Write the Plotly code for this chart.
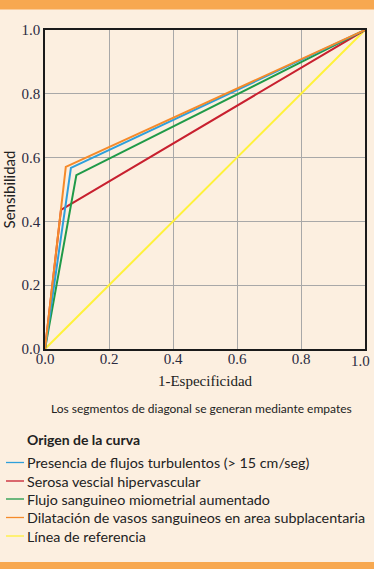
import plotly.graph_objects as go

# ---- data ----
series_names = [
    "Presencia de flujos turbulentos (> 15 cm/seg)",
    "Serosa vescial hipervascular",
    "Flujo sanguineo miometrial aumentado",
    "Dilatación de vasos sanguineos en area subplacentaria",
    "Línea de referencia",
]
x_turbulentos = [0.0, 0.081, 1.0]
y_turbulentos = [0.0, 0.568, 1.0]
x_serosa = [0.0, 0.05, 1.0]
y_serosa = [0.0, 0.436, 1.0]
x_miometrial = [0.0, 0.098, 1.0]
y_miometrial = [0.0, 0.545, 1.0]
x_dilatacion = [0.0, 0.065, 1.0]
y_dilatacion = [0.0, 0.571, 1.0]
x_referencia = [0.0, 1.0]
y_referencia = [0.0, 1.0]
tick_vals = [0.0, 0.2, 0.4, 0.6, 0.8, 1.0]
tick_text = ["0.0", "0.2", "0.4", "0.6", "0.8", "1.0"]

colors = ["#2E9FDB", "#C8202F", "#1F9A48", "#F58A2A", "#FFF23A"]
xs = [x_turbulentos, x_serosa, x_miometrial, x_dilatacion, x_referencia]
ys = [y_turbulentos, y_serosa, y_miometrial, y_dilatacion, y_referencia]

W, H = 374, 569
L, R, T, B = 45, 365, 30, 349  # plot area pixels
BG = "#FCEFE0"
BAND = "#F7A850"

def px(x):
    return (x - L) / (R - L)

def py(y):
    return (B - y) / (B - T)

fig = go.Figure()
order = [4, 1, 2, 0, 3]
for i in order:
    fig.add_trace(go.Scatter(
        x=xs[i], y=ys[i], mode="lines", name=series_names[i],
        line=dict(color=colors[i], width=2), showlegend=False,
        hoverinfo="skip", cliponaxis=False))

shapes = []
annotations = []
shapes.append(dict(type="rect", xref="paper", yref="paper",
                   x0=px(0), x1=px(W), y0=py(0), y1=py(9.5),
                   fillcolor=BAND, line=dict(width=0), layer="below"))
shapes.append(dict(type="rect", xref="paper", yref="paper",
                   x0=px(0), x1=px(W), y0=py(562), y1=py(569),
                   fillcolor=BAND, line=dict(width=0), layer="below"))

serif = "Liberation Serif, DejaVu Serif, serif"
sans = "Lato, Open Sans, sans-serif"
tickfont = dict(family=serif, size=15, color="#2a2a40")

annotations.append(dict(xref="paper", yref="paper", x=px(201), y=py(408),
                        text="Los segmentos de diagonal se generan mediante empates",
                        showarrow=False, xanchor="center", yanchor="middle",
                        font=dict(family=sans, size=12, color="#222222")))
annotations.append(dict(xref="paper", yref="paper", x=px(25), y=py(439),
                        text="<b>Origen de la curva</b>",
                        showarrow=False, xanchor="left", yanchor="middle",
                        font=dict(family=sans, size=14, color="#222222")))
legend_y = [462.5, 481, 499, 517.5, 536]
for i, name in enumerate(series_names):
    yy = legend_y[i]
    shapes.append(dict(type="line", xref="paper", yref="paper",
                       x0=px(6), x1=px(24), y0=py(yy), y1=py(yy),
                       line=dict(color=colors[i], width=1.3)))
    annotations.append(dict(xref="paper", yref="paper", x=px(24.5), y=py(yy),
                            text=name, showarrow=False, xanchor="left",
                            yanchor="middle",
                            font=dict(family=sans, size=14.3, color="#222222")))

# last x tick label placed so it stays inside the page (as in the reference)
annotations.append(dict(xref="x", yref="paper", x=tick_vals[-1], y=0,
                        yshift=-2, xshift=7, text=tick_text[-1],
                        showarrow=False, xanchor="right", yanchor="top",
                        font=tickfont))

axis_common = dict(range=[0, 1], tickvals=tick_vals,
                   showgrid=True, gridcolor="#A8A8A8", gridwidth=1,
                   showline=True, linecolor="#1a1a1a", linewidth=1.5,
                   mirror=True, zeroline=False, ticks="",
                   automargin=False, ticklabeloverflow="allow",
                   tickfont=tickfont, fixedrange=True)

x_tick_text = tick_text[:-1] + [""]

fig.update_layout(
    width=W, height=H,
    margin=dict(l=L, r=W - R, t=T, b=H - B, pad=0),
    paper_bgcolor=BG, plot_bgcolor=BG,
    xaxis=dict(axis_common, ticktext=x_tick_text, ticklabelstandoff=-5,
               title=dict(text="1-Especificidad", standoff=10,
               font=dict(family=serif, size=15, color="#222222"))),
    yaxis=dict(axis_common, ticktext=tick_text,
               title=dict(text="Sensibilidad", standoff=6,
               font=dict(family=sans, size=15, color="#222222"))),
    shapes=shapes, annotations=annotations, showlegend=False,
)

fig.write_html("out.html", config={"displayModeBar": False},
               post_script="document.body.style.margin='0';document.body.style.padding='0';document.body.style.overflow='hidden';")
